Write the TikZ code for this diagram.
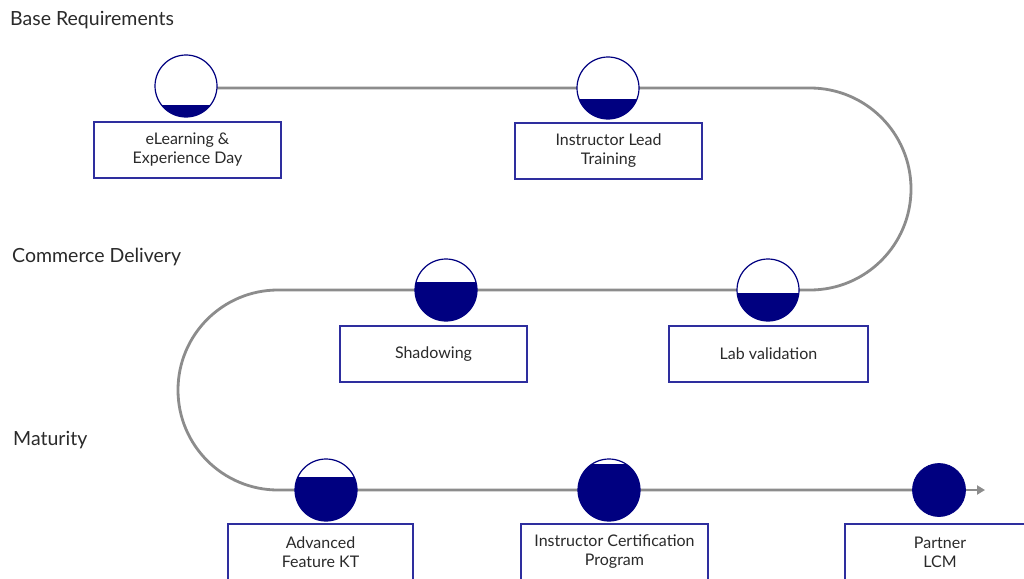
\documentclass[tikz,border=0pt]{standalone}
\usepackage{fontspec}
\setmainfont{Lato}
\usetikzlibrary{arrows.meta}
\definecolor{navy}{HTML}{000080}
\definecolor{boxblue}{HTML}{2E2E9E}
\definecolor{track}{HTML}{8C8C8C}
\definecolor{txt}{HTML}{2A2A2A}
\tikzset{
  stagebox/.style={draw=boxblue, line width=1.4pt, fill=white, minimum width=187pt, minimum height=56pt, align=center, inner sep=0pt, font=\fontsize{16}{19}\selectfont, text=txt},
  phase/.style={anchor=west, font=\fontsize{19.5}{23}\selectfont, text=txt, inner sep=0pt},
  gaugering/.style={circle, draw=navy, line width=1.2pt, minimum size=62pt, inner sep=0pt},
  trackline/.style={draw=track, line width=2.8pt},
}
\newcommand\gauge[4]{%
  \fill[white] (#2,#3) circle[radius=31];
  \begin{scope}
    \clip (#2,#3) circle[radius=31];
    \fill[navy] (#2-31,#3+31) rectangle (#2+31,#3+31-62*#4);
  \end{scope}
  \node[gaugering] (#1) at (#2,#3) {};
}
\begin{document}
\begin{tikzpicture}[x=1pt,y=-1pt]
\useasboundingbox (0,0) rectangle (1024,578);
\fill[white] (0,0) rectangle (1024,578);
\clip (0,0) rectangle (1024,578);

% phase labels
\node[phase] (p1) at (10,20) {Base Requirements};
\node[phase] (p2) at (12,257) {Commerce Delivery};
\node[phase] (p3) at (13,440) {Maturity};

% track waypoints
\coordinate (g1) at (186,88);
\coordinate (g2) at (608,88);
\coordinate (tr) at (810,88);
\coordinate (g4) at (768,290);
\coordinate (g3) at (446,290);
\coordinate (ml) at (278,290);
\coordinate (g5) at (326,490);
\coordinate (g6) at (609,490);
\coordinate (g7) at (939,490);
\coordinate (tip) at (985,490);

\draw[trackline] (g1) -- (g2) -- (tr) arc[start angle=-90, end angle=90, radius=101]
  -- (g4) -- (g3) -- (ml) arc[start angle=270, end angle=90, radius=100]
  -- (g5) -- (g6) -- (g7);
\draw[trackline, -{Triangle[length=8pt,width=9pt]}] (g7) -- (tip);

% gauges
\gauge{c1}{186}{86}{0.20}
\gauge{c2}{608}{88}{0.33}
\gauge{c3}{446}{290}{0.63}
\gauge{c4}{768}{290}{0.45}
\gauge{c5}{326}{490}{0.71}
\gauge{c6}{609}{490}{0.92}
\node[circle, fill=navy, draw=navy, line width=0.8pt, minimum size=53pt, inner sep=0pt] (c7) at (939,490) {};

% boxes
\node[stagebox] (b1) at (187.5,150) {eLearning \&\\Experience Day};
\node[stagebox] (b2) at (608.5,151) {Instructor Lead\\Training};
\node[stagebox] (b3) at (433.5,354) {Shadowing};
\node[stagebox, minimum width=199pt] (b4) at (768.5,354) {Lab validation};
\node[stagebox, minimum width=185pt] (b5) at (320.5,552) {Advanced\\Feature KT};
\node[stagebox] (b6) at (614.5,552) {Instructor Certification\\Program};
\node[stagebox, minimum width=190pt] (b7) at (940,552) {Partner\\LCM};
\end{tikzpicture}
\end{document}
